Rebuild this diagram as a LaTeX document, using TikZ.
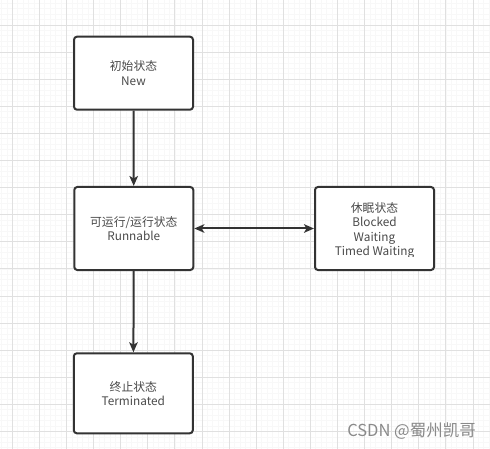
\documentclass[tikz,border=0pt]{standalone}
\usepackage{fontspec}
\setmainfont{Noto Sans CJK SC}
\usetikzlibrary{arrows.meta}
\definecolor{edge}{HTML}{333333}
\definecolor{txt}{HTML}{4A4A4A}
\definecolor{gmaj}{HTML}{E0E0E0}
\definecolor{gmin}{HTML}{F8F8F8}
\definecolor{wm}{HTML}{8A8A8A}
\tikzset{
  state/.style={draw=edge, fill=white, line width=2pt, rounded corners=3pt,
    minimum width=119pt, text=txt, align=center,
    font=\fontsize{11.8pt}{14.4pt}\selectfont},
  conn/.style={draw=edge, line width=2pt},
  tip/.style={-{Stealth[length=10pt,width=8.5pt,inset=2.5pt]}},
  dtip/.style={{Stealth[length=10pt,width=8.5pt,inset=2.5pt]}-{Stealth[length=10pt,width=8.5pt,inset=2.5pt]}},
}
\begin{document}
\begin{tikzpicture}[x=1pt,y=-1pt]
\useasboundingbox (0,0) rectangle (490,449);
\fill[white] (0,0) rectangle (490,449);
% faint minor grid
\foreach \i in {0,...,92} {
  \draw[gmin, line width=0.5pt] ({1.36+5.42*\i},0) -- ({1.36+5.42*\i},449);
}
\foreach \i in {0,...,84} {
  \draw[gmin, line width=0.5pt] (0,{3.2+5.42*\i}) -- (490,{3.2+5.42*\i});
}
% major grid
\foreach \i in {0,...,18} {
  \draw[gmaj, line width=0.7pt] ({12.2+27.1*\i},0) -- ({12.2+27.1*\i},449);
}
\foreach \i in {0,...,17} {
  \draw[gmaj, line width=0.7pt] (0,{-2.2+27.1*\i}) -- (490,{-2.2+27.1*\i});
}
% states
\node[state, minimum height=73pt] (new) at (133.5,73.2) {初始状态\\New};
\node[state, minimum height=83pt] (run) at (133.8,228.5) {可运行/运行状态\\Runnable};
\node[state, minimum height=83pt] (sleep) at (374.5,228.5) {};
\begin{scope}
  \clip (316,188) rectangle (433,256.5);
  \node[align=center, text=txt, font=\fontsize{11.8pt}{14.4pt}\selectfont, inner sep=0pt] (sleeptext) at (374.5,230.3) {休眠状态\\Blocked\\Waiting\\Timed Waiting};
\end{scope}
\node[state, minimum height=80pt] (term) at (133.3,393.3) {终止状态\\Terminated};
% connectors
\draw[conn, tip] (new) -- (run);
\draw[conn, dtip] (run) -- (sleep);
\draw[conn, tip] (run) -- (term);
% watermark
\node[text=wm, font=\fontsize{16.5pt}{18pt}\selectfont, anchor=east, inner sep=0pt] (mark) at (476,431) {CSDN @蜀州凯哥};
\end{tikzpicture}
\end{document}
